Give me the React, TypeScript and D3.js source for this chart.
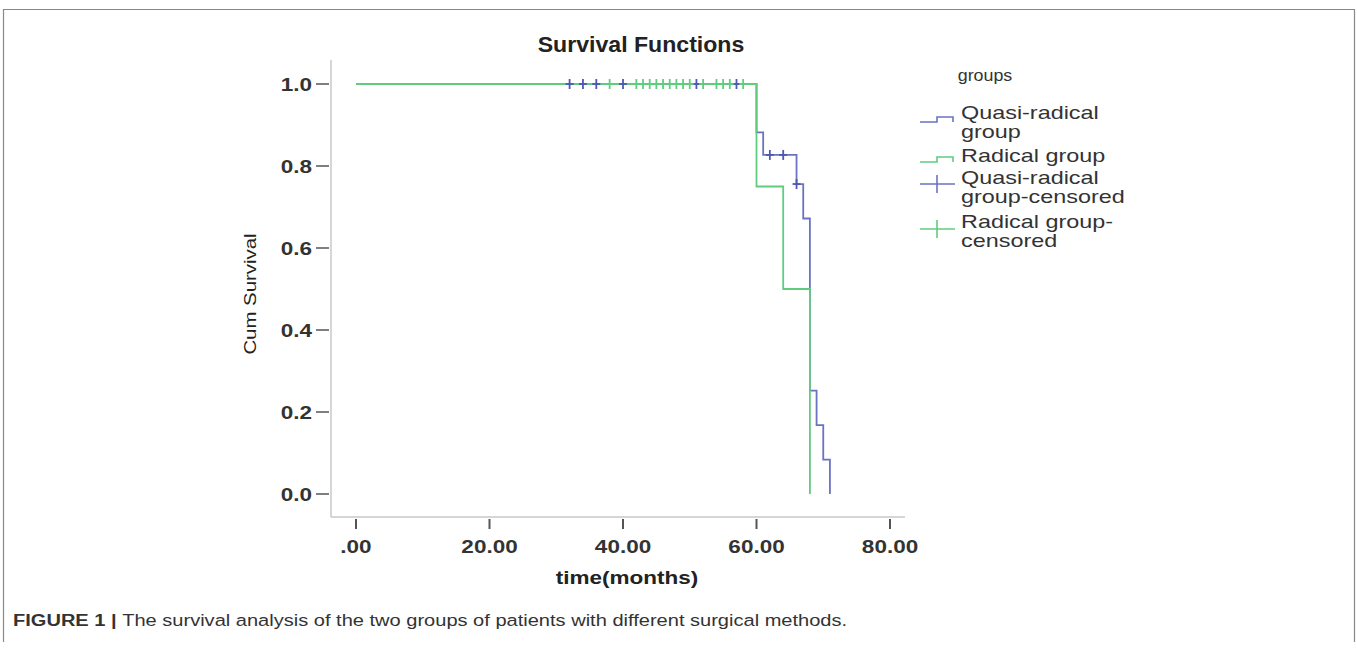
import React from "react";
import * as d3 from "d3";

// ---- data ----
const xTicks = [0, 20, 40, 60, 80];
const yTicks = [0, 0.2, 0.4, 0.6, 0.8, 1.0];

// Kaplan-Meier steps: [time, survival]
const quasiSteps: [number, number][] = [
  [0, 1.0], [60, 0.882], [61, 0.827], [66, 0.756], [67, 0.672],
  [68, 0.252], [69, 0.168], [70, 0.084], [71, 0.0],
];
const radicalSteps: [number, number][] = [
  [0, 1.0], [60, 0.75], [64, 0.5], [68, 0.0],
];
// censored observations: [time, survival]
const quasiCensored: [number, number][] = [
  [32, 1], [34, 1], [36, 1], [40, 1], [51, 1], [57, 1],
  [62, 0.827], [64, 0.827], [66, 0.756],
];
const radicalCensored: [number, number][] = [
  [38, 1], [42, 1], [43, 1], [44, 1], [45, 1], [46, 1], [47, 1], [48, 1],
  [49, 1], [50, 1], [52, 1], [54, 1], [55, 1], [56, 1], [58, 1],
];
const legendItems = [
  { lines: ["Quasi-radical", "group"], kind: "step", color: "blue" },
  { lines: ["Radical group"], kind: "step", color: "green" },
  { lines: ["Quasi-radical", "group-censored"], kind: "cens", color: "blue" },
  { lines: ["Radical group-", "censored"], kind: "cens", color: "green" },
];

const BLUE = "#6a73c2";
const BLUE_DARK = "#4d58b2";
const GREEN = "#5fcc7e";
const SANS = "'Liberation Sans', Arial, sans-serif";

type STProps = {
  x: number;
  y: number;
  sx?: number;
  size: number;
  bold?: boolean;
  anchor?: "start" | "middle" | "end";
  fill?: string;
  rotate?: number;
  children: React.ReactNode;
};
function ST({ x, y, sx = 1, size, bold, anchor = "start", fill = "#2a2a2a", rotate = 0, children }: STProps) {
  return (
    <text
      transform={`translate(${x},${y}) rotate(${rotate}) scale(${sx},1)`}
      textAnchor={anchor}
      fontFamily={SANS}
      fontWeight={bold ? "bold" : "normal"}
      fontSize={size}
      fill={fill}
    >
      {children}
    </text>
  );
}

export default function App() {
  const x = d3.scaleLinear().domain([0, 80]).range([356, 890]);
  const y = d3.scaleLinear().domain([0, 1]).range([494, 84]);
  const line = d3
    .line<[number, number]>()
    .x((d) => x(d[0]))
    .y((d) => y(d[1]))
    .curve(d3.curveStepAfter);

  const cross = (cx: number, cy: number, color: string, key: string) => (
    <g key={key} stroke={color} strokeWidth={1.8}>
      <line x1={cx} x2={cx} y1={cy - 5} y2={cy + 5} />
      <line x1={cx - 4} x2={cx + 4} y1={cy} y2={cy} />
    </g>
  );

  const itemBase = [119, 162, 184, 228];
  const lineH = 19;
  const iconY = [117, 157, 184, 229];

  return (
    <svg
      width={1357}
      height={656}
      style={{ position: "absolute", left: 0, top: 0, background: "#fff" }}
    >
      {/* figure frame */}
      <path d="M3.5,642 V9.5 H1354.5 V642" fill="none" stroke="#888" strokeWidth={1.2} />

      {/* title */}
      <ST x={641} y={52} sx={1.05} size={22} bold anchor="middle" fill="#222">
        Survival Functions
      </ST>

      {/* axes */}
      <line x1={331} x2={331} y1={60} y2={517} stroke="#c8c8c8" strokeWidth={1.5} />
      <line x1={331} x2={905} y1={517} y2={517} stroke="#c8c8c8" strokeWidth={1.5} />

      {yTicks.map((t) => (
        <g key={"y" + t}>
          <line x1={316} x2={329} y1={y(t)} y2={y(t)} stroke="#555" strokeWidth={1.5} />
          <ST x={312} y={y(t) + 6.5} sx={1.25} size={18} bold anchor="end" fill="#333">
            {t.toFixed(1)}
          </ST>
        </g>
      ))}
      {xTicks.map((t) => (
        <g key={"x" + t}>
          <line x1={x(t)} x2={x(t)} y1={519} y2={529} stroke="#555" strokeWidth={2} />
          <ST x={x(t)} y={553} sx={1.25} size={18} bold anchor="middle" fill="#333">
            {t === 0 ? ".00" : t.toFixed(2)}
          </ST>
        </g>
      ))}

      <ST x={627} y={584} sx={1.25} size={18} bold anchor="middle" fill="#222">
        time(months)
      </ST>
      <ST x={256} y={294} sx={1.2} size={17} anchor="middle" rotate={-90} fill="#222">
        Cum Survival
      </ST>

      {/* curves */}
      <path d={line(quasiSteps) || ""} fill="none" stroke={BLUE} strokeWidth={1.8} />
      <path d={line(radicalSteps) || ""} fill="none" stroke={GREEN} strokeWidth={1.8} />
      {quasiCensored.map((d, i) => cross(x(d[0]), y(d[1]), BLUE_DARK, "qc" + i))}
      {radicalCensored.map((d, i) => cross(x(d[0]), y(d[1]), GREEN, "rc" + i))}

      {/* legend */}
      <ST x={985} y={81} sx={1.05} size={17} anchor="middle" fill="#333">
        groups
      </ST>
      {legendItems.map((item, i) => {
        const ly = iconY[i];
        const col = item.color === "blue" ? BLUE : GREEN;
        return (
          <g key={"lg" + i}>
            {item.kind === "step" ? (
              <path
                d={`M920,${ly + 5} H937 V${ly} H953 V${ly + 5}`}
                fill="none"
                stroke={col}
                strokeWidth={1.6}
              />
            ) : (
              <g stroke={col} strokeWidth={1.6}>
                <line x1={920} x2={955} y1={ly} y2={ly} />
                <line x1={937} x2={937} y1={ly - 9} y2={ly + 9} />
              </g>
            )}
            {item.lines.map((s, j) => (
              <ST key={j} x={961} y={itemBase[i] + j * lineH} sx={1.3} size={18} fill="#333">
                {s}
              </ST>
            ))}
          </g>
        );
      })}

      {/* caption */}
      <text
        transform="translate(13,626) scale(1.18,1)"
        fontFamily={SANS}
        fontSize={17}
        fill="#333"
      >
        <tspan fontWeight="bold">FIGURE 1 | </tspan>
        The survival analysis of the two groups of patients with different surgical methods.
      </text>
    </svg>
  );
}
